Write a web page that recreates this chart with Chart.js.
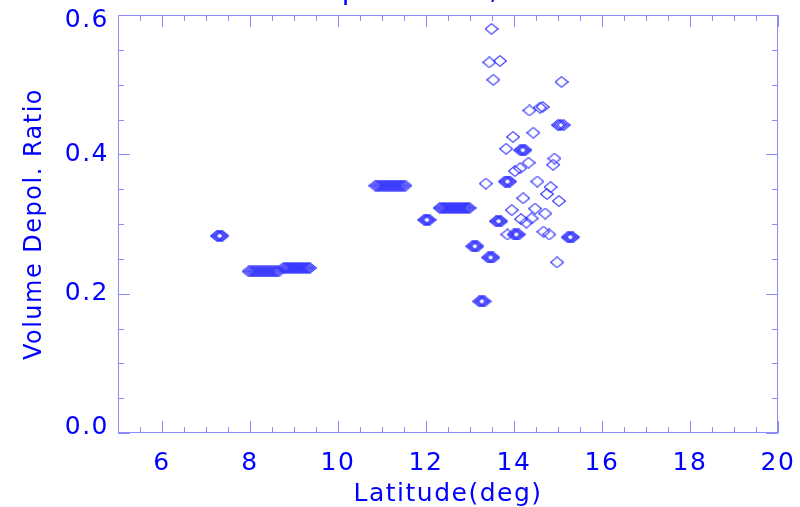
<!DOCTYPE html>
<html>
<head>
<meta charset="utf-8">
<script src="https://cdn.jsdelivr.net/npm/chart.js@4/dist/chart.umd.min.js"></script>
<style>
  html, body { margin: 0; padding: 0; background: #ffffff; }
  canvas { display: block; }
</style>
</head>
<body>
<canvas id="scatterChart" width="800" height="507"></canvas>
<script>
// tick labels
const xTickLabels = [6, 8, 10, 12, 14, 16, 18, 20];
const yTickLabels = [0.0, 0.2, 0.4, 0.6];
const titleText = 'Depol. Ratio, 2021';

// long runs of overlapping retrievals  [latitude, ratio]
const bandPoints = [
    [7.97, 0.232], [8.01, 0.232], [8.05, 0.232], [8.09, 0.232], [8.13, 0.232], [8.17, 0.232],
    [8.21, 0.232], [8.25, 0.232], [8.29, 0.232], [8.33, 0.232], [8.37, 0.232], [8.41, 0.232],
    [8.45, 0.232], [8.49, 0.232], [8.53, 0.232], [8.57, 0.232], [8.61, 0.232], [8.65, 0.232],
    [8.76, 0.237], [8.80, 0.237], [8.84, 0.237], [8.88, 0.237], [8.92, 0.237], [8.96, 0.237],
    [9.00, 0.237], [9.04, 0.237], [9.08, 0.237], [9.12, 0.237], [9.16, 0.237], [9.20, 0.237],
    [9.24, 0.237], [9.28, 0.237], [9.32, 0.237], [9.36, 0.237],
    [10.85, 0.355], [10.89, 0.355], [10.93, 0.355], [10.97, 0.355], [11.01, 0.355], [11.05, 0.355],
    [11.09, 0.355], [11.13, 0.355], [11.17, 0.355], [11.21, 0.355], [11.25, 0.355], [11.29, 0.355],
    [11.33, 0.355], [11.37, 0.355], [11.41, 0.355], [11.45, 0.355], [11.49, 0.355], [11.53, 0.355],
    [12.31, 0.323], [12.35, 0.323], [12.39, 0.323], [12.43, 0.323], [12.47, 0.323], [12.51, 0.323],
    [12.55, 0.323], [12.59, 0.323], [12.63, 0.323], [12.67, 0.323], [12.71, 0.323], [12.75, 0.323],
    [12.79, 0.323], [12.83, 0.323], [12.87, 0.323], [12.91, 0.323], [12.95, 0.323], [12.99, 0.323]
];

// small stacks of near-identical points
const clusterPoints = [
    [7.25, 0.283], [7.28, 0.283], [7.31, 0.283], [7.34, 0.283], [7.37, 0.283],
    [11.96, 0.306], [11.99, 0.306], [12.02, 0.306], [12.05, 0.306], [12.08, 0.306],
    [13.59, 0.304], [13.62, 0.304], [13.65, 0.304], [13.68, 0.304], [13.71, 0.304],
    [13.99, 0.285], [14.02, 0.285], [14.05, 0.285], [14.08, 0.285], [14.11, 0.285],
    [15.22, 0.281], [15.25, 0.281], [15.28, 0.281], [15.31, 0.281], [15.34, 0.281],
    [13.05, 0.268], [13.08, 0.268], [13.11, 0.268], [13.14, 0.268], [13.17, 0.268],
    [13.41, 0.252], [13.44, 0.252], [13.47, 0.252], [13.50, 0.252], [13.53, 0.252],
    [13.21, 0.189], [13.24, 0.189], [13.27, 0.189], [13.30, 0.189], [13.33, 0.189],
    [13.79, 0.361], [13.82, 0.361], [13.85, 0.361], [13.88, 0.361], [13.91, 0.361],
    [14.14, 0.406], [14.17, 0.406], [14.20, 0.406], [14.23, 0.406], [14.26, 0.406]
];

// scattered single points
const singlePoints = [
    [13.49, 0.580], [13.44, 0.532], [13.68, 0.534], [13.53, 0.507], [15.08, 0.504],
    [14.35, 0.463], [14.59, 0.467], [14.65, 0.468],
    [15.00, 0.442], [15.04, 0.442], [15.08, 0.442], [15.13, 0.442],
    [13.98, 0.425], [14.44, 0.431], [13.82, 0.408],
    [14.92, 0.394], [14.89, 0.385],
    [14.02, 0.376], [14.14, 0.380], [14.33, 0.388],
    [13.36, 0.358], [14.53, 0.361], [14.83, 0.353], [14.75, 0.343],
    [15.02, 0.333], [14.21, 0.337],
    [13.95, 0.320], [14.48, 0.322], [14.71, 0.315],
    [14.16, 0.307], [14.28, 0.302], [14.40, 0.308],
    [13.85, 0.285], [14.67, 0.289], [14.80, 0.285],
    [14.98, 0.245]
];

const textBlue = '#0000ff';
const axisBlue = '#8c8cff';
const markBlue = '#3434ff';

// hollow diamond, a bit wider than tall
function makeDiamond() {
    const c = document.createElement('canvas');
    c.width = 14;
    c.height = 12;
    const g = c.getContext('2d');
    g.strokeStyle = markBlue;
    g.lineWidth = 1.1;
    g.beginPath();
    g.moveTo(0.7, 6);
    g.lineTo(7, 0.7);
    g.lineTo(13.3, 6);
    g.lineTo(7, 11.3);
    g.closePath();
    g.stroke();
    return c;
}

// the original lettering is wider than DejaVu, so space it out a little,
// and the end labels of the y axis are pulled in towards the middle
const wideText = {
    id: 'wideText',
    beforeDraw(chart) {
        chart.ctx.letterSpacing = '1.5px';
        const items = chart.scales.y.getLabelItems();
        if (items.length) {
            items[0].options.translation[1] -= 6;
            items[items.length - 1].options.translation[1] += 5;
        }
    }
};

const boxAndTicks = {
    id: 'boxAndTicks',
    afterDraw(chart) {
        const { ctx, chartArea: a, scales: { x, y } } = chart;
        ctx.save();
        ctx.strokeStyle = axisBlue;
        ctx.lineWidth = 1;
        ctx.strokeRect(a.left + 0.5, a.top + 0.5, a.right - a.left - 1, a.bottom - a.top - 1);

        ctx.beginPath();
        for (let i = 0; i <= 30; i++) {
            const v = 5 + i * 0.5;
            const px = Math.round(x.getPixelForValue(v)) + 0.5;
            const len = xTickLabels.includes(v) ? 12 : 6;
            ctx.moveTo(px, a.bottom);
            ctx.lineTo(px, a.bottom - len);
            ctx.moveTo(px, a.top);
            ctx.lineTo(px, a.top + len);
        }
        for (let i = 0; i <= 12; i++) {
            const v = i * 0.05;
            const py = Math.round(y.getPixelForValue(v)) + 0.5;
            const len = i % 4 === 0 ? 12 : 6;
            ctx.moveTo(a.left, py);
            ctx.lineTo(a.left + len, py);
            ctx.moveTo(a.right, py);
            ctx.lineTo(a.right - len, py);
        }
        ctx.stroke();

        // title sits mostly above the top edge of the picture
        ctx.fillStyle = textBlue;
        ctx.font = '28px "DejaVu Sans"';
        ctx.textAlign = 'left';
        ctx.textBaseline = 'alphabetic';
        ctx.fillText(titleText, 300, -1);
        ctx.restore();
    }
};

document.addEventListener('DOMContentLoaded', function () {
    const diamond = makeDiamond();
    const allPoints = bandPoints.concat(clusterPoints, singlePoints);

    const ctx = document.getElementById('scatterChart').getContext('2d');
    new Chart(ctx, {
        type: 'scatter',
        data: {
            datasets: [{
                label: 'Volume Depol. Ratio',
                data: allPoints.map(p => ({ x: p[0], y: p[1] })),
                pointStyle: diamond,
                pointRadius: 6,
                pointHoverRadius: 6
            }]
        },
        options: {
            responsive: false,
            animation: false,
            events: [],
            layout: { padding: { top: 15, right: 22, left: 0, bottom: 0 } },
            plugins: {
                legend: { display: false },
                tooltip: { enabled: false }
            },
            scales: {
                x: {
                    type: 'linear',
                    min: 5,
                    max: 20,
                    afterBuildTicks: s => { s.ticks = xTickLabels.map(v => ({ value: v })); },
                    afterFit: s => { s.height = 74; s.paddingLeft = 0; s.paddingRight = 0; },
                    grid: { display: false, drawTicks: false },
                    border: { display: false },
                    ticks: {
                        color: textBlue,
                        font: { family: 'DejaVu Sans', size: 25 },
                        padding: 15,
                        autoSkip: false,
                        maxRotation: 0
                    },
                    title: {
                        display: true,
                        text: 'Latitude(deg)',
                        color: textBlue,
                        font: { family: 'DejaVu Sans', size: 25 },
                        padding: { top: 0, bottom: -2 }
                    }
                },
                y: {
                    min: 0,
                    max: 0.6,
                    afterBuildTicks: s => { s.ticks = yTickLabels.map(v => ({ value: v })); },
                    afterFit: s => { s.width = 118; s.paddingTop = 0; s.paddingBottom = 0; },
                    grid: { display: false, drawTicks: false },
                    border: { display: false },
                    ticks: {
                        color: textBlue,
                        font: { family: 'DejaVu Sans', size: 25 },
                        padding: 9,
                        callback: v => Number(v).toFixed(1)
                    },
                    title: {
                        display: true,
                        text: 'Volume Depol. Ratio',
                        color: textBlue,
                        font: { family: 'DejaVu Sans', size: 24 },
                        padding: { top: 20, bottom: 0 }
                    }
                }
            }
        },
        plugins: [wideText, boxAndTicks]
    });
});
</script>
</body>
</html>
